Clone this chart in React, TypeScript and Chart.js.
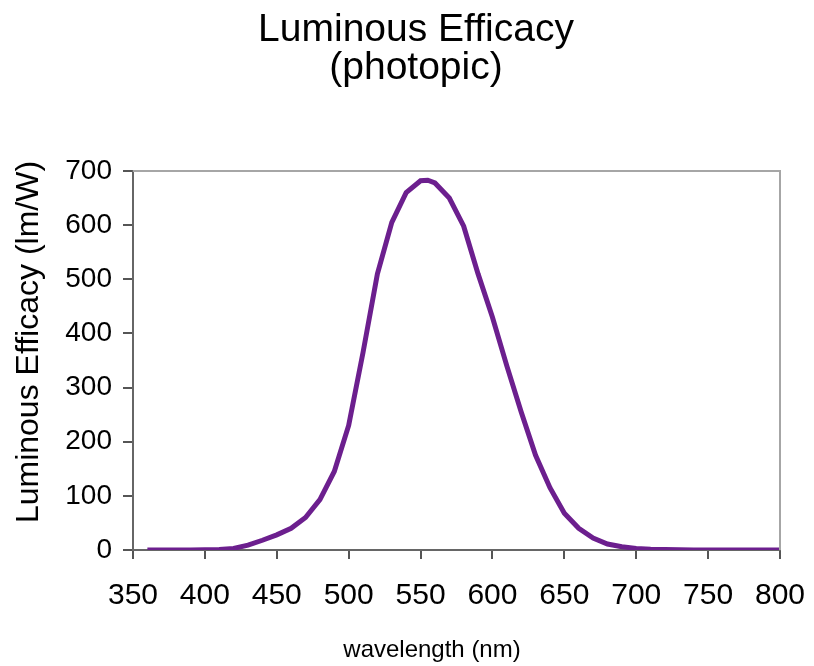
import React, { useEffect, useRef } from "react";
import { Chart, registerables } from "chart.js";

Chart.register(...registerables);

const titleLines = ["Luminous Efficacy", "(photopic)"];
const xAxisTitle = "wavelength (nm)";
const yAxisTitle = "Luminous Efficacy (lm/W)";

const wavelengths = [
  360, 370, 380, 390, 400, 410, 420, 430, 440, 450, 460, 470, 480, 490, 500,
  510, 520, 530, 540, 550, 555, 560, 570, 580, 590, 600, 610, 620, 630, 640,
  650, 660, 670, 680, 690, 700, 710, 720, 730, 740, 750, 760, 770, 780, 790, 800,
];
const efficacy = [
  0, 0, 0, 0, 0.3, 1, 3, 9, 18, 28, 40, 60, 93, 145, 230,
  365, 510, 605, 660, 682, 683, 678, 650, 598, 510, 430, 340, 255, 175, 115,
  68, 40, 22, 11, 6, 3, 1.5, 0.7, 0.3, 0.2, 0.1, 0, 0, 0, 0, 0,
];

const xMin = 350;
const xMax = 800;
const xStep = 50;
const yMin = 0;
const yMax = 700;
const yStep = 100;

const FONT = "'Liberation Sans', Arial, sans-serif";

const textPlugin = {
  id: "customTexts",
  afterDraw(chart: any) {
    const ctx = chart.ctx;
    const area = chart.chartArea;
    ctx.save();
    ctx.fillStyle = "#000";
    // frame top/right
    ctx.strokeStyle = "#a6a6a6";
    ctx.lineWidth = 2;
    ctx.beginPath();
    ctx.moveTo(area.left, area.top);
    ctx.lineTo(area.right, area.top);
    ctx.lineTo(area.right, area.bottom);
    ctx.stroke();
    // main title
    ctx.textAlign = "center";
    ctx.textBaseline = "alphabetic";
    ctx.font = `39px ${FONT}`;
    ctx.fillText(titleLines[0], 416, 41);
    ctx.fillText(titleLines[1], 416, 79);
    // x title
    ctx.font = `24px ${FONT}`;
    ctx.fillText(xAxisTitle, 432, 657);
    // y title
    ctx.font = `32px ${FONT}`;
    ctx.translate(38, 342);
    ctx.rotate(-Math.PI / 2);
    ctx.fillText(yAxisTitle, 0, 0);
    ctx.restore();
  },
};

export default function App() {
  const canvasRef = useRef<HTMLCanvasElement>(null);

  useEffect(() => {
    if (!canvasRef.current) return;
    const points = wavelengths.map((w, i) => ({ x: w, y: efficacy[i] }));
    const chart = new Chart(canvasRef.current, {
      type: "line",
      data: {
        datasets: [
          {
            data: points,
            borderColor: "#6c1f8e",
            borderWidth: 5,
            pointRadius: 0,
            tension: 0,
            fill: false,
          },
        ],
      },
      options: {
        animation: false,
        responsive: true,
        maintainAspectRatio: false,
        layout: { padding: { left: 43, top: 171, right: 34, bottom: 56 } },
        plugins: { legend: { display: false }, tooltip: { enabled: false }, title: { display: false } },
        scales: {
          x: {
            type: "linear",
            min: xMin,
            max: xMax,
            ticks: {
              stepSize: xStep,
              color: "#000",
              padding: 19,
              font: { family: FONT, size: 30 },
              maxRotation: 0,
            },
            grid: { drawOnChartArea: false, drawTicks: true, tickLength: 9, color: "#555", lineWidth: 2 },
            border: { display: true, color: "#666", width: 2 },
            afterFit: (s: any) => {
              s.height = 60;
              s.paddingLeft = 0;
              s.paddingRight = 0;
            },
          },
          y: {
            type: "linear",
            min: yMin,
            max: yMax,
            ticks: {
              stepSize: yStep,
              color: "#000",
              padding: 11,
              font: { family: FONT, size: 28 },
            },
            grid: { drawOnChartArea: false, drawTicks: true, tickLength: 10, color: "#555", lineWidth: 2 },
            border: { display: true, color: "#666", width: 2 },
            afterFit: (s: any) => {
              s.width = 90;
              s.paddingTop = 0;
              s.paddingBottom = 0;
            },
          },
        },
      },
      plugins: [textPlugin],
    });
    return () => chart.destroy();
  }, []);

  return (
    <div style={{ position: "fixed", left: 0, top: 0, width: 814, height: 666, background: "#fff" }}>
      <canvas ref={canvasRef} />
    </div>
  );
}
